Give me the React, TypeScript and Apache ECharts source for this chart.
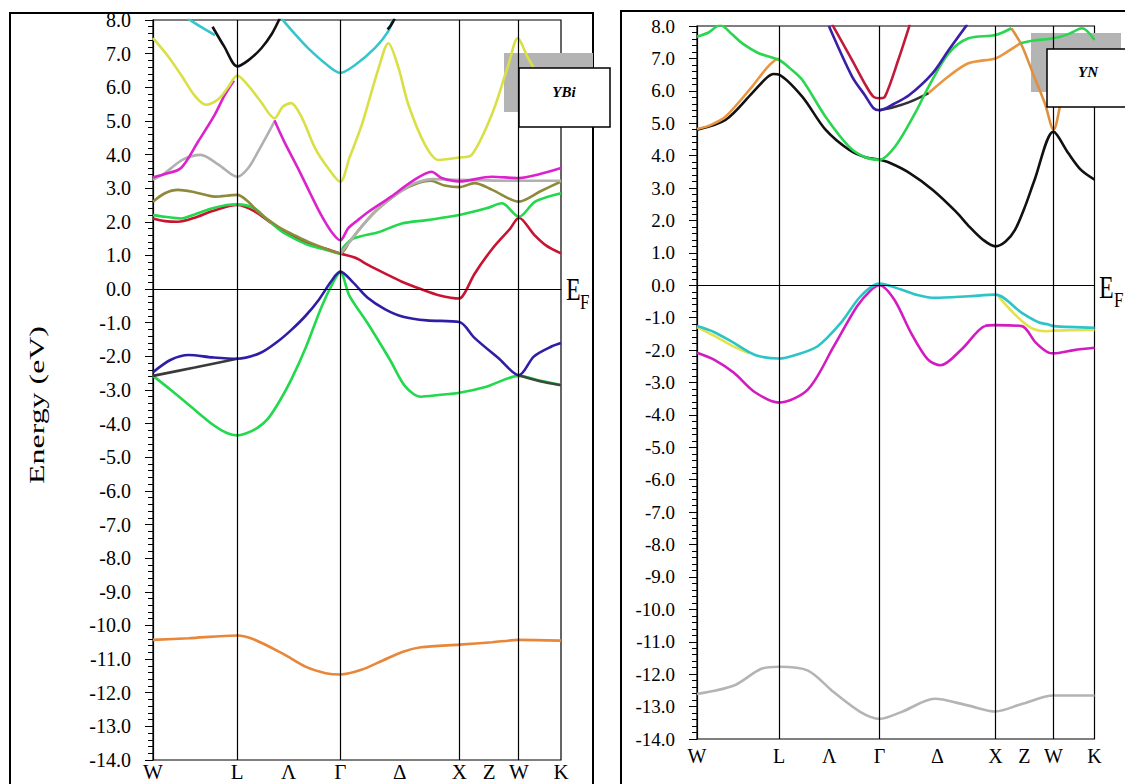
import React, { useEffect, useRef } from "react";
import * as echarts from "echarts";

// k-path positions (units of 2π/a): W – L – Γ – X – W – K
const kTickValues = [0, 0.7071, 1.14, 1.5731, 2.0731, 2.5731, 2.8231, 3.0731, 3.4267];
const kTickLabels = ["W", "L", "Λ", "Γ", "Δ", "X", "Z", "W", "K"];
const symmetryLines = [0.7071, 1.5731, 2.5731, 3.0731];
const kMax = 3.4267;
const eMin = -14;
const eMax = 8;

// ---------- YBi bands ----------
const ybiOrange = [[0,-10.43],[0.3,-10.38],[0.707,-10.3],[0.85,-10.42],[1.09,-10.84],[1.29,-11.24],[1.45,-11.42],[1.573,-11.46],[1.75,-11.32],[1.93,-11.04],[2.1,-10.78],[2.25,-10.65],[2.573,-10.57],[2.85,-10.5],[3.073,-10.43],[3.427,-10.45]];
const ybiGreenLow = [[0,-2.58],[0.15,-3.0],[0.32,-3.5],[0.51,-4.05],[0.62,-4.28],[0.707,-4.35],[0.79,-4.28],[0.88,-4.12],[0.966,-3.85],[1.06,-3.35],[1.16,-2.7],[1.285,-1.72],[1.415,-0.53],[1.51,0.18],[1.573,0.5],[1.65,-0.2],[1.8,-1.0],[1.99,-2.1],[2.12,-2.9],[2.25,-3.2],[2.4,-3.15],[2.573,-3.08],[2.8,-2.9],[3.073,-2.58],[3.25,-2.72],[3.427,-2.85]];
const ybiDarkA = [[0,-2.58],[0.35,-2.33],[0.707,-2.07]];
const ybiDarkB = [[3.073,-2.56],[3.25,-2.74],[3.427,-2.86]];
const ybiBlue = [[0,-2.47],[0.15,-2.1],[0.3,-1.96],[0.5,-2.03],[0.707,-2.07],[0.9,-1.9],[1.05,-1.55],[1.16,-1.22],[1.28,-0.8],[1.39,-0.33],[1.5,0.25],[1.573,0.52],[1.68,0.2],[1.8,-0.25],[1.95,-0.6],[2.1,-0.82],[2.3,-0.93],[2.573,-0.98],[2.7,-1.45],[2.9,-2.05],[3.073,-2.56],[3.2,-2.0],[3.35,-1.7],[3.427,-1.6]];
const ybiRed = [[0,2.1],[0.1,2.02],[0.21,2.0],[0.35,2.12],[0.5,2.32],[0.707,2.5],[0.85,2.32],[1.0,1.95],[1.15,1.62],[1.3,1.36],[1.45,1.2],[1.573,1.06],[1.7,0.93],[1.81,0.71],[1.95,0.46],[2.09,0.22],[2.25,0.0],[2.4,-0.18],[2.573,-0.28],[2.62,-0.1],[2.7,0.45],[2.85,1.2],[3.0,1.8],[3.073,2.12],[3.2,1.62],[3.3,1.3],[3.427,1.06]];
const ybiGreenUp = [[0,2.2],[0.1,2.15],[0.236,2.1],[0.35,2.22],[0.5,2.4],[0.62,2.5],[0.707,2.52],[0.854,2.4],[0.95,2.1],[1.078,1.72],[1.2,1.48],[1.3,1.32],[1.45,1.17],[1.573,1.06],[1.6,1.25],[1.68,1.5],[1.9,1.7],[2.09,1.95],[2.3,2.05],[2.573,2.2],[2.8,2.4],[2.93,2.55],[3.073,2.15],[3.21,2.6],[3.427,2.85]];
const ybiOlive = [[0,2.6],[0.1,2.85],[0.21,2.95],[0.35,2.88],[0.518,2.75],[0.707,2.8],[0.8,2.6],[0.88,2.3],[1.0,1.98],[1.078,1.8],[1.2,1.58],[1.3,1.41],[1.45,1.2],[1.573,1.06],[1.65,1.4],[1.75,1.85],[1.865,2.3],[2.0,2.7],[2.1,2.95],[2.2,3.12],[2.33,3.22],[2.45,3.08],[2.573,3.03],[2.7,3.15],[2.85,2.95],[3.073,2.6],[3.25,2.9],[3.427,3.2]];
const ybiGrayA = [[0,3.25],[0.1,3.45],[0.25,3.85],[0.4,3.99],[0.55,3.7],[0.707,3.34],[0.8,3.6],[0.9,4.2],[1.02,4.98]];
const ybiGrayB = [[1.573,1.06],[1.65,1.4],[1.75,1.85],[1.865,2.3],[2.0,2.7],[2.1,2.95],[2.2,3.15],[2.35,3.27],[2.573,3.25],[3.073,3.22],[3.427,3.22]];
const ybiMagentaA = [[0,3.32],[0.1,3.42],[0.236,3.6],[0.378,4.38],[0.518,5.18],[0.6,5.75],[0.68,6.2]];
const ybiMagentaB = [[1.02,5.02],[1.1,4.4],[1.218,3.59],[1.32,2.85],[1.413,2.2],[1.5,1.7],[1.573,1.45],[1.64,1.81],[1.72,2.05],[1.81,2.3],[2.0,2.75],[2.17,3.19],[2.34,3.49],[2.425,3.3],[2.573,3.2],[2.845,3.34],[3.073,3.3],[3.25,3.42],[3.427,3.6]];
const ybiYellow = [[0,7.46],[0.12,6.95],[0.235,6.37],[0.35,5.75],[0.445,5.48],[0.55,5.65],[0.63,6.0],[0.707,6.35],[0.8,6.05],[0.9,5.6],[1.02,5.08],[1.09,5.42],[1.16,5.53],[1.25,5.1],[1.36,4.2],[1.47,3.6],[1.573,3.19],[1.65,3.9],[1.753,4.88],[1.895,6.57],[1.977,7.31],[2.06,6.6],[2.145,5.48],[2.285,4.29],[2.397,3.84],[2.573,3.91],[2.677,3.99],[2.845,5.18],[2.985,6.67],[3.064,7.46],[3.15,6.87],[3.3,6.0],[3.427,5.6]];
const ybiCyanA = [[0.29,8.05],[0.4,7.8],[0.52,7.55]];
const ybiBlackA = [[0.5,7.8],[0.6,7.2],[0.707,6.62],[0.8,6.8],[0.91,7.16],[1.0,7.6],[1.065,8.05]];
const ybiCyanB = [[1.078,8.05],[1.2,7.55],[1.3,7.17],[1.45,6.7],[1.573,6.43],[1.7,6.67],[1.865,7.17],[1.975,7.66],[2.016,8.05]];
const ybiBlackB = [[1.97,7.72],[2.0,7.85],[2.03,8.05]];

// ---------- YN bands ----------
const ynGray = [[0,-12.61],[0.318,-12.35],[0.55,-11.84],[0.707,-11.77],[0.957,-11.89],[1.18,-12.56],[1.41,-13.17],[1.573,-13.38],[1.76,-13.17],[2.05,-12.76],[2.34,-12.97],[2.573,-13.15],[2.8,-12.92],[3.073,-12.66],[3.427,-12.66]];
const ynYellowA = [[0,-1.29],[0.15,-1.56],[0.3,-1.86],[0.45,-2.1]];
const ynYellowB = [[2.6,-0.35],[2.7,-0.75],[2.8,-1.1],[2.9,-1.35],[3.0,-1.42],[3.073,-1.4],[3.427,-1.38]];
const ynMagenta = [[0,-2.08],[0.15,-2.3],[0.318,-2.7],[0.5,-3.3],[0.707,-3.62],[0.957,-3.21],[1.18,-1.88],[1.38,-0.65],[1.5,-0.15],[1.573,0.0],[1.7,-0.44],[1.845,-1.47],[1.99,-2.29],[2.1,-2.47],[2.28,-1.98],[2.48,-1.26],[2.573,-1.23],[2.8,-1.26],[2.92,-1.77],[3.03,-2.08],[3.073,-2.1],[3.25,-2.0],[3.427,-1.93]];
const ynCyan = [[0,-1.26],[0.15,-1.45],[0.318,-1.78],[0.5,-2.15],[0.707,-2.26],[0.85,-2.15],[1.04,-1.88],[1.24,-1.16],[1.41,-0.34],[1.573,0.05],[1.76,-0.13],[1.9,-0.3],[2.05,-0.39],[2.34,-0.34],[2.573,-0.29],[2.8,-0.85],[2.95,-1.15],[3.03,-1.21],[3.073,-1.26],[3.427,-1.31]];
const ynBlack = [[0,4.8],[0.245,5.1],[0.475,5.93],[0.6,6.4],[0.66,6.52],[0.707,6.5],[0.907,5.82],[1.108,4.8],[1.31,4.18],[1.45,3.95],[1.573,3.87],[1.66,3.78],[1.83,3.47],[2.03,2.95],[2.23,2.28],[2.35,1.8],[2.46,1.42],[2.573,1.2],[2.66,1.35],[2.74,1.7],[2.83,2.45],[2.91,3.25],[3.073,4.74],[3.2,4.08],[3.31,3.56],[3.427,3.26]];
const ynBlackB = [[1.573,5.4],[1.7,5.5],[1.83,5.65],[1.997,5.93]];
const ynOrangeA = [[0,4.82],[0.12,4.95],[0.245,5.2],[0.475,6.13],[0.6,6.7],[0.674,6.95],[0.707,7.0]];
const ynOrangeB = [[1.997,5.93],[2.17,6.45],[2.34,6.85],[2.573,7.0],[2.65,7.15],[2.79,7.47]];
const ynOrangeC = [[2.71,7.93],[2.8,7.4],[2.9,6.5],[3.0,5.6],[3.073,4.8],[3.17,6.07],[3.3,6.6],[3.427,6.8]];
const ynGreenA = [[0,7.67],[0.1,7.8],[0.2,8.03],[0.3,7.75],[0.388,7.47],[0.532,7.16],[0.707,6.95],[0.8,6.7],[0.907,6.34],[1.108,5.2],[1.31,4.28],[1.45,3.95],[1.573,3.87],[1.708,4.28],[1.88,5.31],[1.997,6.13],[2.17,7.16],[2.34,7.62],[2.573,7.72],[2.71,7.93]];
const ynGreenB = [[2.79,7.47],[2.9,7.55],[3.073,7.62],[3.2,7.75],[3.32,7.93],[3.427,7.57]];
const ynBlue = [[1.137,8.0],[1.337,6.44],[1.45,5.85],[1.52,5.47],[1.573,5.4],[1.7,5.6],[1.83,5.87],[2.03,6.54],[2.17,7.26],[2.33,8.05]];
const ynRed = [[1.165,8.05],[1.337,6.95],[1.45,6.2],[1.52,5.82],[1.573,5.77],[1.62,5.82],[1.735,6.95],[1.835,8.05]];

const ybiBands = [
  { data: ybiOrange, color: "#e8873a" },
  { data: ybiGreenLow, color: "#22d84c" },
  { data: ybiDarkA, color: "#3a3a3a" },
  { data: ybiDarkB, color: "#3a4a3a" },
  { data: ybiBlue, color: "#2e1ea6" },
  { data: ybiRed, color: "#c81432" },
  { data: ybiGreenUp, color: "#22d84c" },
  { data: ybiOlive, color: "#8e8a3c" },
  { data: ybiGrayA, color: "#b0b0b0" },
  { data: ybiGrayB, color: "#b0b0b0" },
  { data: ybiMagentaA, color: "#dc22cc" },
  { data: ybiMagentaB, color: "#dc22cc" },
  { data: ybiYellow, color: "#d8e046" },
  { data: ybiCyanA, color: "#34c6cc" },
  { data: ybiCyanB, color: "#34c6cc" },
  { data: ybiBlackA, color: "#111111" },
  { data: ybiBlackB, color: "#111111" },
];

const ynBands = [
  { data: ynGray, color: "#b4b4b4" },
  { data: ynYellowA, color: "#e2e24a" },
  { data: ynYellowB, color: "#e2e24a" },
  { data: ynMagenta, color: "#d21cc0" },
  { data: ynCyan, color: "#2cc4c6" },
  { data: ynBlack, color: "#111111" },
  { data: ynBlackB, color: "#333333" },
  { data: ynOrangeA, color: "#e8963f" },
  { data: ynOrangeB, color: "#e8963f" },
  { data: ynOrangeC, color: "#e0903c" },
  { data: ynGreenA, color: "#2ad64f" },
  { data: ynGreenB, color: "#2ad64f" },
  { data: ynBlue, color: "#3b1fa8" },
  { data: ynRed, color: "#c21a3a" },
];

const serifFamily = "Liberation Serif";

function kLabel(v: number) {
  let best = 0;
  for (let i = 0; i < kTickValues.length; i++) {
    if (Math.abs(kTickValues[i] - v) < Math.abs(kTickValues[best] - v)) best = i;
  }
  return kTickLabels[best];
}

function xAxisFor(gi: number, fontSize: number, margin: number) {
  return {
    type: "value",
    gridIndex: gi,
    min: 0,
    max: kMax,
    axisLine: { show: true, lineStyle: { color: "#000", width: 1.2 } },
    axisTick: { show: false },
    splitLine: { show: false },
    axisLabel: {
      customValues: kTickValues,
      formatter: (v: number) => kLabel(v),
      color: "#000",
      fontFamily: serifFamily,
      fontSize,
      margin,
    },
  };
}

function yAxisFor(gi: number, fontSize: number) {
  return {
    type: "value",
    gridIndex: gi,
    min: eMin,
    max: eMax,
    interval: 1,
    axisLine: { show: true, lineStyle: { color: "#000", width: 1.2 } },
    axisTick: { show: true, inside: false, length: 8, lineStyle: { color: "#000" } },
    minorTick: { show: true, splitNumber: 5, length: 5, lineStyle: { color: "#000" } },
    splitLine: { show: false },
    axisLabel: {
      formatter: (v: number) => v.toFixed(1),
      color: "#000",
      fontFamily: serifFamily,
      fontSize,
      margin: 22,
    },
  };
}

function guideSeries(gi: number) {
  return {
    type: "line",
    xAxisIndex: gi,
    yAxisIndex: gi,
    data: [],
    silent: true,
    z: 1,
    markLine: {
      symbol: "none",
      silent: true,
      animation: false,
      label: { show: false },
      lineStyle: { color: "#000", width: 1.2, type: "solid" },
      data: [...symmetryLines.map((k) => ({ xAxis: k })), { yAxis: 0 }],
    },
  };
}

function bandSeries(b: { data: number[][]; color: string }, gi: number) {
  return {
    type: "line",
    xAxisIndex: gi,
    yAxisIndex: gi,
    data: b.data,
    showSymbol: false,
    smooth: 0.3,
    silent: true,
    clip: true,
    z: 3,
    lineStyle: { color: b.color, width: 2.6 },
  };
}

export default function App() {
  const ref = useRef<HTMLDivElement>(null);
  useEffect(() => {
    if (!ref.current) return;
    const chart = echarts.init(ref.current, undefined, { renderer: "svg" });
    const option: any = {
      animation: false,
      backgroundColor: "#fff",
      grid: [
        { left: 153, top: 20, width: 408, height: 740, show: true, borderColor: "#000", borderWidth: 1.2, backgroundColor: "transparent" },
        { left: 697, top: 26, width: 397.5, height: 713, show: true, borderColor: "#000", borderWidth: 1.2, backgroundColor: "transparent" },
      ],
      xAxis: [xAxisFor(0, 21, 1), xAxisFor(1, 20, 7)],
      yAxis: [yAxisFor(0, 20), yAxisFor(1, 19)],
      series: [
        guideSeries(0),
        guideSeries(1),
        ...ybiBands.map((b) => bandSeries(b, 0)),
        ...ynBands.map((b) => bandSeries(b, 1)),
      ],
      graphic: [
        { type: "rect", z: 0, shape: { x: 10, y: 13, width: 583, height: 800 }, style: { fill: "none", stroke: "#000", lineWidth: 2 } },
        { type: "rect", z: 0, shape: { x: 621, y: 11, width: 520, height: 800 }, style: { fill: "none", stroke: "#000", lineWidth: 2 } },
        {
          type: "text", z: 5, x: 37, y: 405, rotation: Math.PI / 2, scaleX: 1.45,
          style: { text: "Energy (eV)", fontFamily: serifFamily, fontSize: 22, fontWeight: "normal", fill: "#000", align: "center", verticalAlign: "middle" },
        },
        { type: "text", z: 5, x: 566, y: 289, scaleY: 1.3, style: { text: "E", fontFamily: serifFamily, fontSize: 24, fill: "#000", align: "left", verticalAlign: "middle" } },
        { type: "text", z: 5, x: 580, y: 302, scaleY: 1.2, style: { text: "F", fontFamily: serifFamily, fontSize: 17, fill: "#000", align: "left", verticalAlign: "middle" } },
        { type: "text", z: 5, x: 1099, y: 287, scaleY: 1.3, style: { text: "E", fontFamily: serifFamily, fontSize: 24, fill: "#000", align: "left", verticalAlign: "middle" } },
        { type: "text", z: 5, x: 1114, y: 300, scaleY: 1.2, style: { text: "F", fontFamily: serifFamily, fontSize: 17, fill: "#000", align: "left", verticalAlign: "middle" } },
        { type: "rect", z: 1, shape: { x: 504, y: 53, width: 89, height: 59 }, style: { fill: "#b4b4b4" } },
        { type: "rect", z: 10, shape: { x: 519, y: 68, width: 91, height: 59 }, style: { fill: "#fff", stroke: "#000", lineWidth: 1.5 } },
        { type: "text", z: 11, x: 564, y: 92, style: { text: "YBi", fontFamily: serifFamily, fontStyle: "italic", fontWeight: "bold", fontSize: 15, fill: "#000", align: "center", verticalAlign: "middle" } },
        { type: "rect", z: 1, shape: { x: 1031, y: 33, width: 90, height: 59 }, style: { fill: "#b4b4b4" } },
        { type: "rect", z: 10, shape: { x: 1047, y: 49, width: 92, height: 58 }, style: { fill: "#fff", stroke: "#000", lineWidth: 1.5 } },
        { type: "text", z: 11, x: 1088, y: 72, style: { text: "YN", fontFamily: serifFamily, fontStyle: "italic", fontWeight: "bold", fontSize: 15, fill: "#000", align: "center", verticalAlign: "middle" } },
      ],
    };
    chart.setOption(option);
    return () => chart.dispose();
  }, []);
  return (
    <div
      ref={ref}
      style={{ position: "fixed", left: 0, top: 0, width: 1125, height: 784, background: "#fff" }}
    />
  );
}
